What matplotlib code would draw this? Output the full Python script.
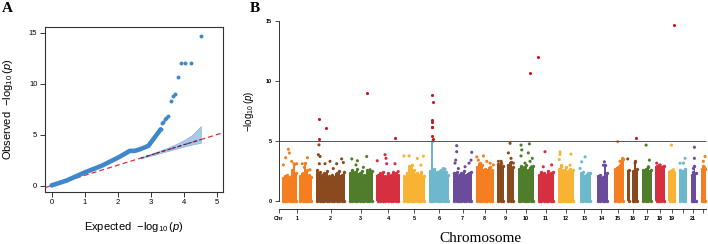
import numpy as np
import matplotlib
matplotlib.use("Agg")
import matplotlib.pyplot as plt

plt.rcParams['font.family'] = ['Liberation Sans', 'DejaVu Sans']
plt.rcParams['mathtext.fontset'] = 'custom'
plt.rcParams['mathtext.rm'] = 'Liberation Sans'
plt.rcParams['mathtext.it'] = 'Liberation Sans:italic'

# ---------------- panel A: QQ plot ----------------
qq_exp = [0.0, 0.45, 1.01, 1.52, 2.02, 2.37, 2.52, 2.68, 2.93, 3.08, 3.23, 3.30]
qq_obs = [0.02, 0.49, 1.30, 1.95, 2.76, 3.41, 3.41, 3.57, 3.90, 4.55, 5.20, 5.52]
qq_top_exp = [3.31, 3.33, 3.38, 3.43, 3.46, 3.52, 3.62, 3.67, 3.74, 3.82, 3.91, 4.04, 4.22, 4.52]
qq_top_obs = [5.59, 6.10, 6.23, 6.50, 6.66, 6.88, 8.35, 8.83, 9.03, 10.71, 12.01, 12.01, 12.01, 14.70]
band_exp = [2.70, 3.00, 3.25, 3.50, 3.75, 4.00, 4.25, 4.52]
band_lo = [2.66, 2.93, 3.15, 3.38, 3.60, 3.82, 4.02, 4.20]
band_hi = [2.76, 3.10, 3.40, 3.70, 4.05, 4.45, 4.95, 5.85]

# ---------------- panel B: Manhattan plot ----------------
chrom_len = [249.3, 243.2, 198.0, 191.2, 180.9, 171.1, 159.1, 146.4, 141.2, 135.5, 135.0,
             133.9, 115.2, 107.4, 102.5, 90.4, 81.2, 78.1, 59.1, 63.0, 48.1, 51.3]
chrom_labels = ['1', '2', '3', '4', '5', '6', '7', '8', '9', '10', '11', '12', '13', '14',
                '15', '16', '17', '18', '19', '', '21', '']
# dense body of each chromosome: upper edge of the point cloud, equal-width bins
chrom_body = [
    [1.9, 2.1, 2.2, 2.0, 2.6, 3.1, 2.3, 0, 2.1, 2.3, 3.2, 2.6, 2.2, 2.0],
    [2.6, 2.4, 2.2, 2.3, 2.5, 2.1, 2.2, 2.0, 2.3, 2.5, 2.2, 2.4],
    [2.3, 2.6, 2.4, 2.7, 2.3, 2.5, 2.2, 2.6, 2.4, 2.5],
    [2.2, 2.3, 2.4, 2.1, 2.3, 2.2, 2.4, 2.3, 2.2],
    [2.1, 2.3, 2.9, 3.0, 2.6, 2.3, 2.2, 2.4, 2.1],
    [2.5, 5.0, 2.7, 2.4, 2.3, 2.6, 2.5, 2.4, 2.2],
    [2.3, 2.4, 2.2, 2.3, 2.5, 2.2, 2.3, 2.4],
    [2.8, 3.2, 3.0, 2.7, 2.6, 2.8, 2.6],
    [3.1, 3.2, 2.9, 0, 3.0, 3.25, 2.8],
    [2.7, 2.9, 2.8, 3.0, 2.6, 2.8, 2.9],
    [2.2, 2.4, 2.3, 2.2, 2.5, 2.3, 2.4],
    [2.7, 3.0, 2.6, 2.8, 2.5, 2.7, 2.6],
    [0, 2.3, 2.4, 2.2, 2.35, 2.3],
    [0, 2.1, 2.2, 2.0, 3.0, 2.3],
    [0, 2.7, 2.8, 3.0, 3.5],
    [2.6, 0, 2.5, 3.3, 2.7],
    [2.6, 2.7, 2.8, 2.6],
    [2.9, 3.0, 2.8, 2.9],
    [2.5, 2.6, 2.4],
    [2.6, 2.5, 2.7],
    [0, 2.2, 2.4, 2.9, 2.3],
    [0, 2.7, 2.9, 2.8, 2.7],
]
# scattered SNPs above the dense body (chromosome, position Mb, -log10 p)
snp_chr = [1, 1, 1, 1, 1, 1, 1, 1, 1, 1, 1,
           2, 2, 2, 2, 2, 2, 2, 2, 2, 2,
           3, 3, 3, 3, 3, 3,
           4, 4, 4, 4, 4, 4,
           5, 5, 5, 5, 5, 5,
           6, 6, 6,
           7, 7, 7, 7, 7, 7, 7, 7, 7,
           8, 8, 8, 8, 8, 8,
           9, 9, 9, 9, 9, 9,
           10, 10, 10, 10, 10, 10, 10, 10, 10,
           11, 11, 11,
           12, 12, 12, 12, 12, 12,
           13, 13, 13,
           14, 14,
           15, 15, 15, 15,
           16, 16,
           17, 17, 17,
           18, 18, 18,
           19, 19,
           20, 20, 20,
           21, 21, 21,
           22, 22]
snp_pos = [52, 60, 30, 11, 80, 99, 121, 167, 209, 184, 231,
           26, 21, 35, 29, 76, 117, 144, 172, 213, 227,
           24, 70, 59, 147, 120, 175,
           7, 71, 79, 85, 153, 180,
           7, 49, 117, 167, 147, 65,
           94, 135, 121,
           31, 31, 23, 17, 155, 149, 133, 100, 45,
           63, 21, 91, 118, 145, 8,
           11, 33, 107, 93, 115, 134,
           27, 96, 33, 27, 87, 101, 120, 60, 115,
           60, 115, 46,
           20, 20, 110, 14, 34, 102,
           63, 35, 22,
           78, 70,
           51, 70, 92, 84,
           2, 63,
           34, 61, 53,
           11, 39, 66,
           25, 41,
           49, 8, 36,
           34, 34, 26,
           44, 30]
snp_logp = [4.30, 4.00, 3.60, 3.00, 3.30, 3.10, 3.10, 3.10, 3.60, 2.80, 2.60,
            4.67, 3.85, 3.70, 3.10, 3.10, 3.30, 2.70, 3.10, 3.50, 3.20,
            3.50, 3.35, 3.00, 3.70, 2.80, 2.60,
            3.35, 3.85, 3.55, 3.10, 3.10, 2.45,
            3.75, 3.75, 3.54, 3.73, 2.98, 2.85,
            2.45, 2.65, 2.70,
            4.60, 4.10, 3.40, 3.15, 4.05, 3.40, 3.15, 2.85, 2.70,
            3.75, 3.40, 3.30, 3.15, 3.00, 3.67,
            3.30, 3.30, 4.80, 4.00, 3.55, 3.15,
            4.65, 4.75, 4.25, 3.75, 4.00, 3.30, 3.55, 3.15, 2.85,
            4.10, 3.00, 2.85,
            4.08, 3.87, 3.90, 3.45, 2.84, 2.98,
            3.67, 3.26, 2.71,
            3.26, 2.98,
            4.94, 3.30, 3.55, 3.15,
            3.50, 3.15,
            4.65, 3.40, 2.85,
            3.15, 3.00, 2.85,
            4.65, 2.60,
            3.55, 3.15, 3.15,
            4.47, 3.55, 2.70,
            3.70, 3.30]
# genome-wide significant SNPs
hit_chr = [2, 2, 2, 3, 4, 6, 6, 6, 6, 6, 6, 6, 6, 10, 11, 16, 19]
hit_pos = [26, 82, 26, 147.5, 151, 30.5, 36, 30.5, 31, 30.5, 30.5, 30.5, 32, 101, 1.5, 71, 44.5]
hit_logp = [6.82, 6.05, 5.16, 8.95, 5.25, 8.84, 8.26, 6.77, 6.57, 6.19, 6.15, 5.39, 5.16,
            10.69, 11.96, 5.22, 14.66]

palette = ['#F47E20', '#8B4A1E', '#4F7D2B', '#D63040', '#F9B334', '#6DB8CB', '#6A4C9B']
hit_color = '#D0141E'
qq_blue = '#3D87CD'
gap = 29.2
threshold = 5

fig = plt.figure(figsize=(7.08, 2.44), dpi=100)

# ---- panel A ----
ax1 = fig.add_axes([45 / 708, 1 - 191.7 / 244, 178.3 / 708, 165 / 244])
ax1.fill_between(band_exp, band_lo, band_hi, color='#A9C9EA', lw=0.4, edgecolor='#7FAADC')
ax1.plot([-0.2, 5.2], [-0.2, 5.2], color='#E0303A', ls=(0, (4, 2.5)), lw=0.9)
ax1.plot([band_exp[0], band_exp[-1]], [band_exp[0], band_exp[-1]], color='#2B3A6B',
         ls=(0, (3, 2)), lw=0.8)
ax1.plot(qq_exp, qq_obs, color=qq_blue, lw=3.3, solid_capstyle='round')
ax1.scatter(qq_top_exp, qq_top_obs, s=8, color=qq_blue, lw=0)
ax1.set_xlim(-0.2, 5.2)
ax1.set_ylim(-0.6, 15.6)
ax1.set_xticks([0, 1, 2, 3, 4, 5])
ax1.set_yticks([0, 5, 10, 15])
ax1.tick_params(direction='out', length=3.5, width=0.7, labelsize=5.5, pad=2, color='#333333')
for s in ax1.spines.values():
    s.set_linewidth(0.8)
    s.set_color('#333333')
ax1.set_ylabel(r'Observed  $-\log_{10}(p)$', fontsize=8)
ax1.yaxis.set_label_coords(-0.17, 0.5)
ax1.set_xlabel(r'Expected  $-\log_{10}(p)$', fontsize=8)
ax1.xaxis.set_label_coords(0.5, -0.17)

# ---- panel B ----
offsets = np.concatenate([[0], np.cumsum(chrom_len)[:-1]]) + gap * np.arange(len(chrom_len))
centers = offsets + np.array(chrom_len) / 2
x_end = offsets[-1] + chrom_len[-1]

ax2 = fig.add_axes([279 / 708, 1 - 204.6 / 244, 429 / 708, 187.5 / 244])
for k, heights in enumerate(chrom_body):
    edges = offsets[k] + np.linspace(0, chrom_len[k], len(heights) + 1)
    col = palette[k % 7]
    ax2.stairs(heights, edges, fill=True, baseline=0, color=col, lw=0)
    mids = (edges[:-1] + edges[1:]) / 2
    h = np.array(heights, dtype=float)
    ax2.scatter(mids[h > 0], h[h > 0], s=6, color=col, lw=0)
    ax2.scatter(mids[h > 0], np.zeros((h > 0).sum()), s=6, color=col, lw=0)

sx = [offsets[c - 1] + p for c, p in zip(snp_chr, snp_pos)]
sc = [palette[(c - 1) % 7] for c in snp_chr]
ax2.scatter(sx, snp_logp, s=5, c=sc, lw=0)
hx = [offsets[c - 1] + p for c, p in zip(hit_chr, hit_pos)]
ax2.scatter(hx, hit_logp, s=5, color=hit_color, lw=0, zorder=3)

ax2.hlines(threshold, -25, x_end, color='#555555', lw=0.7)
ax2.set_xlim(-25, -25 + 429 / 0.1213)
ax2.set_ylim(-0.3, 15.3)
ax2.spines['top'].set_visible(False)
ax2.spines['right'].set_visible(False)
ax2.spines['left'].set_bounds(0, 15)
ax2.spines['bottom'].set_bounds(-25, x_end)
ax2.spines['bottom'].set_position(('outward', 3.2))
for s in ('left', 'bottom'):
    ax2.spines[s].set_linewidth(0.7)
    ax2.spines[s].set_color('#333333')
ax2.set_yticks([0, 5, 10, 15])
ax2.set_xticks([-25] + list(centers))
ax2.set_xticklabels(['Chr'] + chrom_labels)
ax2.tick_params(direction='out', length=3, width=0.6, labelsize=4, pad=2, color='#333333')
for lab in ax2.get_xticklabels() + ax2.get_yticklabels():
    lab.set_fontweight('bold')
ax2.set_ylabel(r'$-\log_{10}(p)$', fontsize=7)
ax2.yaxis.set_label_coords(-0.053, 0.5)

fig.text(480 / 708, 1 - 238 / 244, 'Chromosome', ha='center', va='center',
         family='Liberation Serif', fontsize=11)
fig.text(2 / 708, 1 - 2 / 244, 'A', ha='left', va='top', family='Liberation Serif',
         fontweight='bold', fontsize=11)
fig.text(250 / 708, 1 - 2 / 244, 'B', ha='left', va='top', family='Liberation Serif',
         fontweight='bold', fontsize=11)

fig.savefig('out.png', dpi=100)
